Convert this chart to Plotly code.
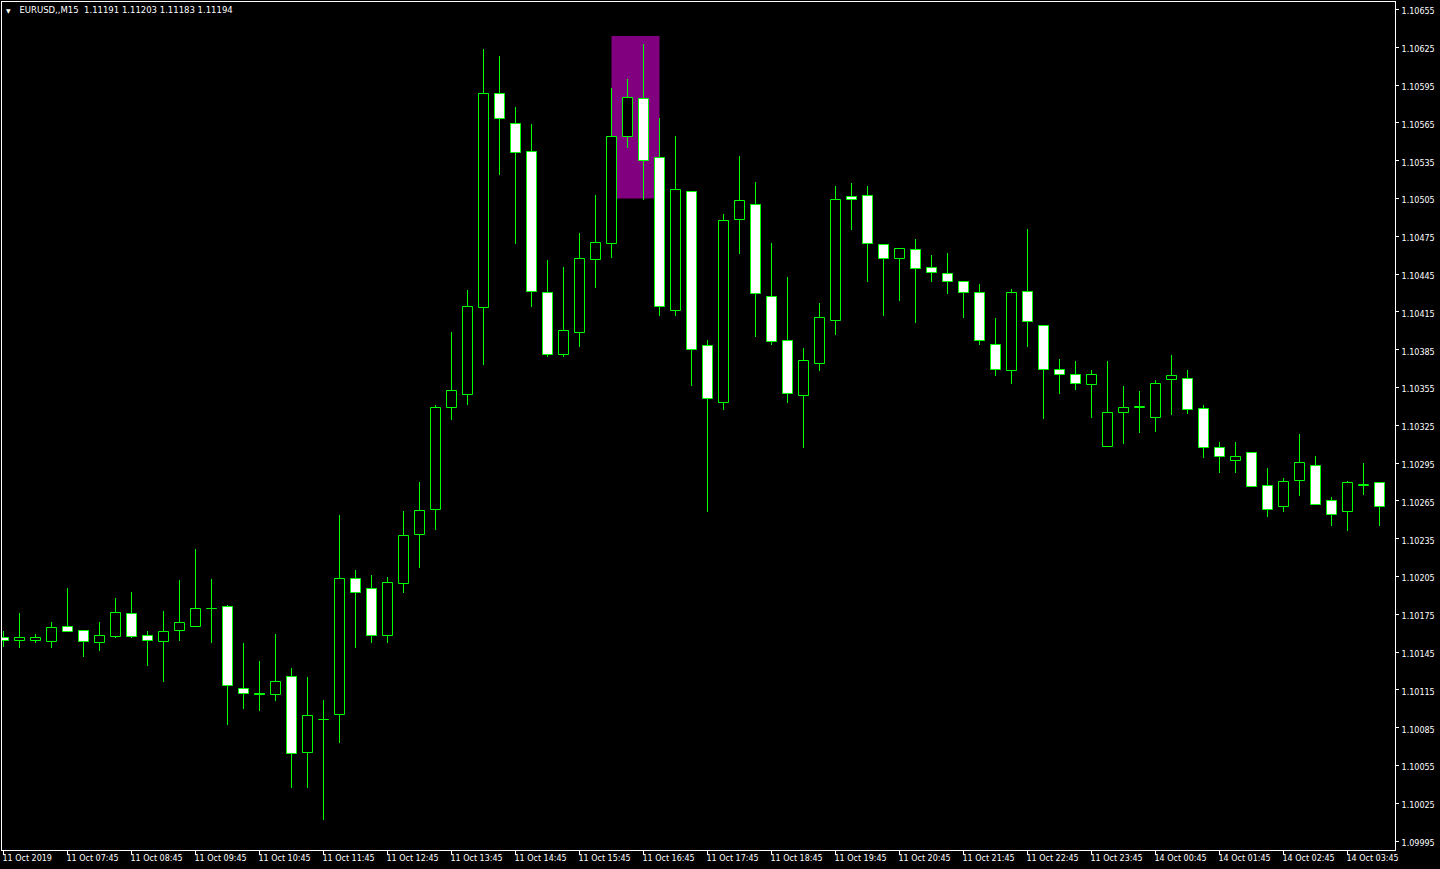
import plotly.graph_objects as go

# ---------------- data ----------------
times = [
    "2019.10.11 06:45",
    "2019.10.11 07:00", "2019.10.11 07:15", "2019.10.11 07:30", "2019.10.11 07:45",
    "2019.10.11 08:00", "2019.10.11 08:15", "2019.10.11 08:30", "2019.10.11 08:45",
    "2019.10.11 09:00", "2019.10.11 09:15", "2019.10.11 09:30", "2019.10.11 09:45",
    "2019.10.11 10:00", "2019.10.11 10:15", "2019.10.11 10:30", "2019.10.11 10:45",
    "2019.10.11 11:00", "2019.10.11 11:15", "2019.10.11 11:30", "2019.10.11 11:45",
    "2019.10.11 12:00", "2019.10.11 12:15", "2019.10.11 12:30", "2019.10.11 12:45",
    "2019.10.11 13:00", "2019.10.11 13:15", "2019.10.11 13:30", "2019.10.11 13:45",
    "2019.10.11 14:00", "2019.10.11 14:15", "2019.10.11 14:30", "2019.10.11 14:45",
    "2019.10.11 15:00", "2019.10.11 15:15", "2019.10.11 15:30", "2019.10.11 15:45",
    "2019.10.11 16:00", "2019.10.11 16:15", "2019.10.11 16:30", "2019.10.11 16:45",
    "2019.10.11 17:00", "2019.10.11 17:15", "2019.10.11 17:30", "2019.10.11 17:45",
    "2019.10.11 18:00", "2019.10.11 18:15", "2019.10.11 18:30", "2019.10.11 18:45",
    "2019.10.11 19:00", "2019.10.11 19:15", "2019.10.11 19:30", "2019.10.11 19:45",
    "2019.10.11 20:00", "2019.10.11 20:15", "2019.10.11 20:30", "2019.10.11 20:45",
    "2019.10.11 21:00", "2019.10.11 21:15", "2019.10.11 21:30", "2019.10.11 21:45",
    "2019.10.11 22:00", "2019.10.11 22:15", "2019.10.11 22:30", "2019.10.11 22:45",
    "2019.10.11 23:00", "2019.10.11 23:15", "2019.10.11 23:30", "2019.10.11 23:45",
    "2019.10.14 00:00", "2019.10.14 00:15", "2019.10.14 00:30", "2019.10.14 00:45",
    "2019.10.14 01:00", "2019.10.14 01:15", "2019.10.14 01:30", "2019.10.14 01:45",
    "2019.10.14 02:00", "2019.10.14 02:15", "2019.10.14 02:30", "2019.10.14 02:45",
    "2019.10.14 03:00", "2019.10.14 03:15", "2019.10.14 03:30", "2019.10.14 03:45",
    "2019.10.14 04:00", "2019.10.14 04:15",
]

open_ = [
    1.10156, 1.10154, 1.10154, 1.10153, 1.10165, 1.10162, 1.10152, 1.10157, 1.10175, 1.10158,
    1.10153, 1.10162, 1.10165, 1.10179, 1.10181, 1.10116, 1.10112, 1.10111, 1.10125, 1.10065,
    1.10091, 1.10095, 1.10203, 1.10195, 1.10158, 1.10199, 1.10238, 1.10258, 1.10339, 1.10349,
    1.10418, 1.10588, 1.10564, 1.10542, 1.10430, 1.10381, 1.10398, 1.10456, 1.10469, 1.10554,
    1.10584, 1.10537, 1.10416, 1.10510, 1.10388, 1.10343, 1.10488, 1.10500, 1.10427, 1.10392,
    1.10348, 1.10374, 1.10408, 1.10506, 1.10507, 1.10468, 1.10457, 1.10464, 1.10450, 1.10445,
    1.10439, 1.10430, 1.10389, 1.10368, 1.10431, 1.10404, 1.10369, 1.10365, 1.10357, 1.10308,
    1.10335, 1.10339, 1.10331, 1.10361, 1.10362, 1.10338, 1.10307, 1.10297, 1.10303, 1.10277,
    1.10260, 1.10281, 1.10293, 1.10265, 1.10256, 1.10277, 1.10279,
]
high = [
    1.10162, 1.10176, 1.10159, 1.10169, 1.10196, 1.10162, 1.10169, 1.10188, 1.10193, 1.10162,
    1.10178, 1.10202, 1.10227, 1.10203, 1.10182, 1.10152, 1.10138, 1.10159, 1.10132, 1.10125,
    1.10107, 1.10254, 1.10210, 1.10206, 1.10205, 1.10257, 1.10280, 1.10341, 1.10399, 1.10432,
    1.10624, 1.10618, 1.10578, 1.10564, 1.10456, 1.10451, 1.10478, 1.10508, 1.10593, 1.10600,
    1.10628, 1.10569, 1.10555, 1.10510, 1.10393, 1.10493, 1.10539, 1.10518, 1.10470, 1.10443,
    1.10386, 1.10422, 1.10515, 1.10517, 1.10515, 1.10469, 1.10465, 1.10473, 1.10460, 1.10462,
    1.10439, 1.10437, 1.10410, 1.10433, 1.10481, 1.10404, 1.10378, 1.10376, 1.10369, 1.10376,
    1.10356, 1.10352, 1.10361, 1.10381, 1.10369, 1.10341, 1.10312, 1.10312, 1.10303, 1.10291,
    1.10283, 1.10318, 1.10301, 1.10268, 1.10281, 1.10295, 1.10279,
]
low = [
    1.10149, 1.10148, 1.10152, 1.10148, 1.10161, 1.10141, 1.10146, 1.10156, 1.10156, 1.10134,
    1.10121, 1.10154, 1.10165, 1.10152, 1.10087, 1.10100, 1.10098, 1.10106, 1.10037, 1.10037,
    1.10012, 1.10073, 1.10148, 1.10152, 1.10152, 1.10192, 1.10212, 1.10242, 1.10329, 1.10341,
    1.10373, 1.10524, 1.10469, 1.10419, 1.10379, 1.10379, 1.10387, 1.10434, 1.10458, 1.10545,
    1.10504, 1.10412, 1.10412, 1.10356, 1.10256, 1.10337, 1.10461, 1.10395, 1.10389, 1.10343,
    1.10307, 1.10368, 1.10397, 1.10480, 1.10439, 1.10412, 1.10424, 1.10406, 1.10439, 1.10429,
    1.10410, 1.10389, 1.10364, 1.10358, 1.10387, 1.10330, 1.10350, 1.10353, 1.10331, 1.10308,
    1.10310, 1.10319, 1.10320, 1.10333, 1.10334, 1.10299, 1.10287, 1.10287, 1.10276, 1.10252,
    1.10256, 1.10269, 1.10262, 1.10245, 1.10241, 1.10270, 1.10245,
]
close = [
    1.10154, 1.10156, 1.10156, 1.10164, 1.10161, 1.10153, 1.10158, 1.10176, 1.10157, 1.10154,
    1.10161, 1.10168, 1.10179, 1.10179, 1.10118, 1.10112, 1.10111, 1.10121, 1.10064, 1.10094,
    1.10091, 1.10203, 1.10192, 1.10158, 1.10200, 1.10237, 1.10257, 1.10339, 1.10352, 1.10419,
    1.10588, 1.10568, 1.10541, 1.10431, 1.10381, 1.10400, 1.10457, 1.10470, 1.10554, 1.10585,
    1.10535, 1.10419, 1.10512, 1.10385, 1.10346, 1.10487, 1.10503, 1.10429, 1.10391, 1.10350,
    1.10376, 1.10410, 1.10504, 1.10504, 1.10469, 1.10457, 1.10465, 1.10449, 1.10446, 1.10439,
    1.10430, 1.10392, 1.10369, 1.10430, 1.10407, 1.10369, 1.10365, 1.10358, 1.10365, 1.10335,
    1.10339, 1.10339, 1.10358, 1.10364, 1.10337, 1.10307, 1.10300, 1.10300, 1.10276, 1.10258,
    1.10280, 1.10295, 1.10262, 1.10254, 1.10279, 1.10277, 1.10260,
]

x_tick_labels = [
    "11 Oct 2019", "11 Oct 07:45", "11 Oct 08:45", "11 Oct 09:45", "11 Oct 10:45",
    "11 Oct 11:45", "11 Oct 12:45", "11 Oct 13:45", "11 Oct 14:45", "11 Oct 15:45",
    "11 Oct 16:45", "11 Oct 17:45", "11 Oct 18:45", "11 Oct 19:45", "11 Oct 20:45",
    "11 Oct 21:45", "11 Oct 22:45", "11 Oct 23:45", "14 Oct 00:45", "14 Oct 01:45",
    "14 Oct 02:45", "14 Oct 03:45",
]
y_tick_labels = [
    "1.10655", "1.10625", "1.10595", "1.10565", "1.10535", "1.10505", "1.10475", "1.10445",
    "1.10415", "1.10385", "1.10355", "1.10325", "1.10295", "1.10265", "1.10235", "1.10205",
    "1.10175", "1.10145", "1.10115", "1.10085", "1.10055", "1.10025", "1.09995",
]

chart_title = "EURUSD,,M15\u00a0\u00a01.11191 1.11203 1.11183 1.11194"

zone_start = "2019.10.11 16:15"
zone_end = "2019.10.11 17:00"
zone_top = 1.10634
zone_bottom = 1.10505

# ---------------- styling ----------------
GREEN = "#00FF00"
FONT = "DejaVu Sans"

body_base = [min(o, c) for o, c in zip(open_, close)]
body_height = [max(abs(c - o), 0.000004) for o, c in zip(open_, close)]
body_fill = ["#000000" if c >= o else "#FFFFFF" for o, c in zip(open_, close)]
wick_height = [h - l for h, l in zip(high, low)]

fig = go.Figure()

# wicks (thin bars, drawn first so bodies cover them)
fig.add_trace(go.Bar(
    x=times, y=wick_height, base=low, width=0.0625,
    marker=dict(color=GREEN, line=dict(width=0)),
    hoverinfo="skip", showlegend=False,
))
# bodies
fig.add_trace(go.Bar(
    x=times, y=body_height, base=body_base, width=0.625,
    marker=dict(color=body_fill, line=dict(color=GREEN, width=1)),
    hoverinfo="skip", showlegend=False,
))

fig.add_shape(
    type="rect", xref="x", yref="y",
    x0=zone_start, x1=zone_end, y0=zone_bottom, y1=zone_top,
    fillcolor="#800080", line=dict(width=0), layer="below",
)

fig.update_layout(
    width=1440, height=869,
    margin=dict(l=2, r=45, t=2, b=19, pad=0),
    paper_bgcolor="#000000", plot_bgcolor="#000000",
    barmode="overlay", bargap=0, bargroupgap=0,
    hovermode=False, showlegend=False,
    font=dict(family=FONT, size=8, color="#FFFFFF"),
    title=dict(
        text=chart_title, x=18 / 1440, xanchor="left", xref="paper",
        y=1 - 10.5 / 869, yanchor="middle", yref="container",
        font=dict(family=FONT, size=8.5, color="#FFFFFF"),
    ),
    xaxis=dict(
        type="category", range=[-0.09375, 86.96875], autorange=False,
        showgrid=False, zeroline=False, automargin=False,
        showline=True, linecolor="#FFFFFF", linewidth=1, mirror=True,
        ticks="outside", ticklen=4, tickwidth=1, tickcolor="#FFFFFF",
        tickvals=times[::4], ticktext=x_tick_labels,
        ticklabelposition="outside right", ticklabelshift=-2,
        tickfont=dict(family=FONT, size=8, color="#FFFFFF"),
        fixedrange=True,
    ),
    yaxis=dict(
        side="right", range=[1.0998794, 1.1066095], autorange=False,
        showgrid=False, zeroline=False, automargin=False,
        showline=True, linecolor="#FFFFFF", linewidth=1, mirror=True,
        ticks="outside", ticklen=3, tickwidth=1, tickcolor="#FFFFFF",
        tickvals=[float(v) for v in y_tick_labels], ticktext=y_tick_labels,
        ticklabelshift=2, ticklabelstandoff=1,
        tickfont=dict(family=FONT, size=8, color="#FFFFFF"),
        fixedrange=True,
    ),
)

fig.add_annotation(
    text="\u25BC", xref="paper", yref="paper",
    x=6 / 1393, y=1 - 8.5 / 848, xanchor="center", yanchor="middle",
    showarrow=False, font=dict(family=FONT, size=6, color="#FFFFFF"),
)

fig.write_html(
    "out.html",
    config=dict(displayModeBar=False),
    post_script="document.body.style.margin='0px';document.body.style.background='#000000';",
)
